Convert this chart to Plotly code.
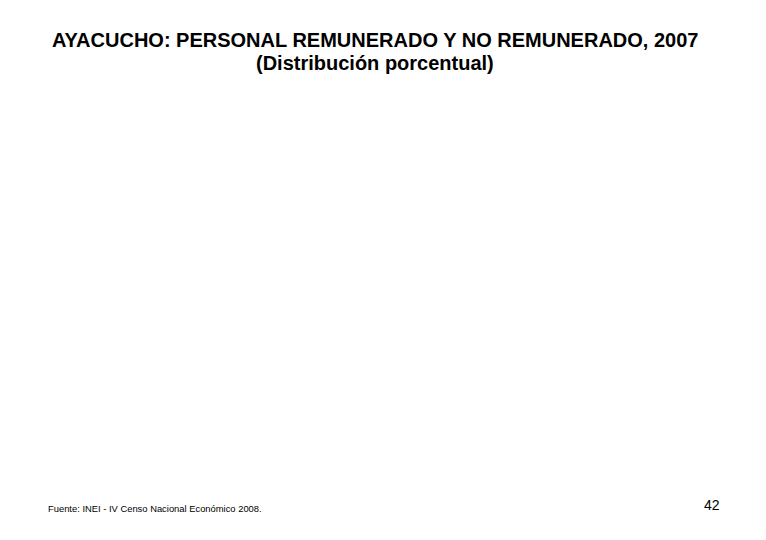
import plotly.graph_objects as go

# texts of the page (the chart area itself is empty in the reference)
title_text = "AYACUCHO: PERSONAL REMUNERADO Y NO REMUNERADO, 2007"
subtitle_text = "(Distribución porcentual)"
source_text = "Fuente: INEI - IV Censo Nacional Económico 2008."
page_number = "42"

W, H = 766, 540
OFF = 8  # page body margin of the html output

fig = go.Figure()

# empty plot area, axes hidden
fig.update_xaxes(visible=False, range=[0, 1])
fig.update_yaxes(visible=False, range=[0, 1])

def px_x(x):
    return (x - OFF) / W

def px_y(y):
    return 1 - (y - OFF) / H

fig.add_annotation(text=f"<b>{title_text}</b>", x=px_x(375), y=px_y(40),
                   xref="paper", yref="paper", showarrow=False,
                   xanchor="center", yanchor="middle",
                   font=dict(family="Liberation Sans, Arial", size=20, color="black"))
fig.add_annotation(text=f"<b>{subtitle_text}</b>", x=px_x(375), y=px_y(63),
                   xref="paper", yref="paper", showarrow=False,
                   xanchor="center", yanchor="middle",
                   font=dict(family="Liberation Sans, Arial", size=20, color="black"))
fig.add_annotation(text=source_text, x=px_x(46), y=px_y(508),
                   xref="paper", yref="paper", showarrow=False,
                   xanchor="left", yanchor="middle",
                   font=dict(family="Liberation Sans, Arial", size=9.4, color="black"))
fig.add_annotation(text=page_number, x=px_x(712), y=px_y(505),
                   xref="paper", yref="paper", showarrow=False,
                   xanchor="center", yanchor="middle",
                   font=dict(family="Liberation Sans, Arial", size=14, color="black"))

fig.update_layout(width=W, height=H,
                  margin=dict(l=0, r=0, t=0, b=0),
                  paper_bgcolor="white", plot_bgcolor="white",
                  showlegend=False)

fig.write_html("out.html")
